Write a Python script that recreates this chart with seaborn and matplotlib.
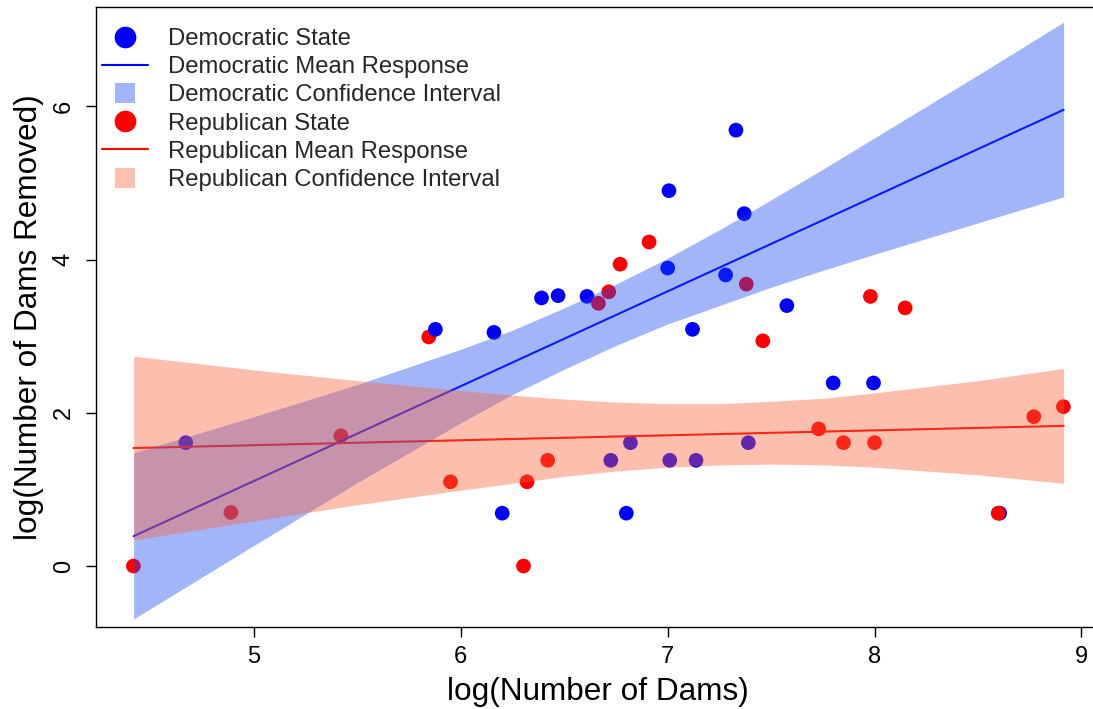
import numpy as np
import pandas as pd
import matplotlib
matplotlib.use("Agg")
import matplotlib.pyplot as plt
import seaborn as sns
from matplotlib.lines import Line2D

# ---- data (one entry per state, in plotting order) ----
party = (["Democratic"] * 22) + (["Republican"] * 22) + ["Democratic"]
log_dams = [4.67, 6.16, 6.20, 6.39, 6.47, 6.61, 6.725, 6.80, 6.82, 7.006, 7.00,
            7.01, 7.12, 7.137, 7.28, 7.33, 7.37, 7.39, 7.576, 7.80, 7.995, 8.605,
            4.417, 4.888, 5.42, 5.845, 5.95, 6.303, 6.32, 6.42, 6.665, 6.715, 6.77,
            6.91, 7.38, 7.46, 7.73, 7.85, 7.98, 8.00, 8.148, 8.598, 8.77, 8.913,
            5.877]
log_removed = [1.61, 3.05, 0.69, 3.50, 3.53, 3.52, 1.38, 0.69, 1.61, 4.90, 3.89,
               1.38, 3.09, 1.38, 3.80, 5.69, 4.60, 1.61, 3.40, 2.39, 2.39, 0.69,
               0.00, 0.70, 1.70, 2.99, 1.10, 0.00, 1.10, 1.38, 3.43, 3.58, 3.94,
               4.23, 3.68, 2.94, 1.79, 1.61, 3.52, 1.61, 3.37, 0.69, 1.95, 2.08,
               3.09]

# mean response lines (end points)
dem_line_x = [4.418, 8.914]
dem_line_y = [0.39, 5.956]
rep_line_x = [4.418, 8.914]
rep_line_y = [1.54, 1.83]

# confidence bands, read at these x positions
band_x = [4.418, 5.0, 5.5, 6.0, 6.25, 6.5, 6.75, 7.0, 7.25, 7.5, 7.75, 8.0, 8.5, 8.914]
dem_lower = [-0.69, 0.27, 1.09, 1.87, 2.24, 2.57, 2.88, 3.16, 3.40, 3.64, 3.86, 4.07, 4.48, 4.82]
dem_upper = [1.48, 1.95, 2.37, 2.83, 3.08, 3.37, 3.68, 4.02, 4.39, 4.78, 5.18, 5.59, 6.41, 7.10]
rep_lower = [0.34, 0.59, 0.80, 0.99, 1.08, 1.17, 1.24, 1.29, 1.32, 1.33, 1.32, 1.29, 1.19, 1.08]
rep_upper = [2.74, 2.56, 2.42, 2.29, 2.23, 2.18, 2.14, 2.12, 2.12, 2.15, 2.19, 2.26, 2.42, 2.58]

x_ticks = [5, 6, 7, 8, 9]
y_ticks = [0, 2, 4, 6]

legend_labels = ["Democratic State", "Democratic Mean Response",
                 "Democratic Confidence Interval", "Republican State",
                 "Republican Mean Response", "Republican Confidence Interval"]

# ---- styling ----
sns.set_theme(style="white")
plt.rcParams["font.family"] = ["Liberation Sans", "DejaVu Sans"]

BLUE = "#0000ff"
RED = "#ff0000"
BLUE_BAND = (25 / 255, 70 / 255, 242 / 255)
RED_BAND = (252 / 255, 97 / 255, 52 / 255)
BAND_ALPHA = 0.4

W, H = 1093, 709
fig = plt.figure(figsize=(W / 100, H / 100), dpi=100)
ax = fig.add_axes([96 / W, 82 / H, (1100 - 96) / W, (627 - 7) / H])

df = pd.DataFrame({"party": party, "log_dams": log_dams, "log_removed": log_removed})

sns.scatterplot(data=df, x="log_dams", y="log_removed", hue="party",
                palette={"Democratic": BLUE, "Republican": RED},
                s=112, linewidth=0, legend=False, ax=ax, zorder=1)

sns.lineplot(x=dem_line_x, y=dem_line_y, color=BLUE, lw=1.5, ax=ax, zorder=2)
sns.lineplot(x=rep_line_x, y=rep_line_y, color=RED, lw=1.5, ax=ax, zorder=2)

ax.fill_between(band_x, dem_lower, dem_upper, color=BLUE_BAND, alpha=BAND_ALPHA,
                linewidth=0, zorder=3)
ax.fill_between(band_x, rep_lower, rep_upper, color=RED_BAND, alpha=BAND_ALPHA,
                linewidth=0, zorder=4)

ax.set_xlim(4.236, 9.09)
ax.set_ylim(-0.796, 7.298)
ax.set_xticks(x_ticks)
ax.set_yticks(y_ticks)
ax.set_xticklabels([str(t) for t in x_ticks])
ax.set_yticklabels([str(t) for t in y_ticks])

for name, sp in ax.spines.items():
    sp.set_visible(name != "right")
    sp.set_color("black")
    sp.set_linewidth(1.0)

ax.tick_params(axis="both", which="major", direction="out", length=7.2, width=1.0,
               color="black", labelsize=17, labelcolor="black",
               bottom=True, left=True, top=False, right=False)
ax.tick_params(axis="x", pad=6.5)
ax.tick_params(axis="y", pad=8, labelrotation=90)
for lab in ax.get_yticklabels():
    lab.set_va("center")

ax.set_xlabel("log(Number of Dams)", fontsize=22.7, color="black")
ax.set_ylabel("log(Number of Dams Removed)", fontsize=22.7, color="black")
ax.xaxis.set_label_coords(0.5, -0.0806)
ax.xaxis.label.set_va("top")
ax.yaxis.set_label_coords(-0.0518, 0.5)

BLUE_SQ = tuple(1 - BAND_ALPHA + BAND_ALPHA * c for c in BLUE_BAND)
RED_SQ = tuple(1 - BAND_ALPHA + BAND_ALPHA * c for c in RED_BAND)
handles = [
    Line2D([], [], marker="o", color=BLUE, linestyle="none", markersize=15.6, markeredgewidth=0),
    Line2D([], [], color=BLUE, lw=1.5),
    Line2D([], [], marker="s", color=BLUE_SQ, linestyle="none", markersize=14.2, markeredgewidth=0),
    Line2D([], [], marker="o", color=RED, linestyle="none", markersize=15.6, markeredgewidth=0),
    Line2D([], [], color=RED, lw=1.5),
    Line2D([], [], marker="s", color=RED_SQ, linestyle="none", markersize=14.2, markeredgewidth=0),
]
ax.legend(handles, legend_labels, loc="upper left",
          bbox_to_anchor=(101.7 / W, 1 - 28 / H), bbox_transform=fig.transFigure,
          frameon=False, fontsize=17.2, borderpad=0, borderaxespad=0,
          handlelength=1.93, handletextpad=0.84, labelspacing=0.26)

fig.savefig("out.png", dpi=100)
